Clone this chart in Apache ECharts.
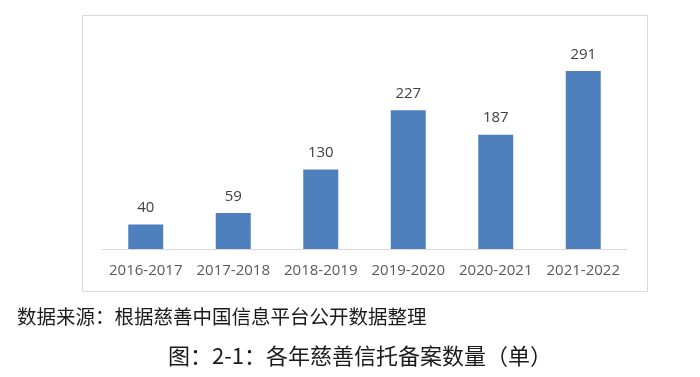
<!DOCTYPE html>
<html>
<head>
<meta charset="utf-8">
<script src="https://cdn.jsdelivr.net/npm/echarts@6/dist/echarts.min.js"></script>
<style>
  html, body { margin: 0; padding: 0; background: #fff; }
  #chart { width: 700px; height: 377px; }
</style>
</head>
<body>
<div id="chart"></div>
<script>
const years = ["2016-2017", "2017-2018", "2018-2019", "2019-2020", "2020-2021", "2021-2022"];
const trustCounts = [40, 59, 130, 227, 187, 291];

const chart = echarts.init(document.getElementById("chart"));

chart.setOption({
  backgroundColor: "#fff",
  animation: false,
  title: [
    {
      text: "数据来源：根据慈善中国信息平台公开数据整理",
      left: 17,
      top: 307,
      padding: 0,
      textStyle: {
        fontFamily: "Noto Sans CJK SC",
        fontSize: 19.5,
        fontWeight: "normal",
        color: "#1a1a1a"
      }
    },
    {
      text: "图：2-1：各年慈善信托备案数量（单）",
      left: 360,
      textAlign: "center",
      top: 345,
      padding: 0,
      textStyle: {
        fontFamily: "Noto Sans CJK SC",
        fontSize: 22,
        fontWeight: "normal",
        color: "#1a1a1a"
      }
    }
  ],
  graphic: [
    {
      type: "rect",
      shape: { x: 82.5, y: 15.5, width: 565, height: 276 },
      style: { fill: "none", stroke: "#d9d9d9", lineWidth: 1 },
      z: -1
    }
  ],
  grid: {
    left: 102,
    right: 73,
    top: 35,
    bottom: 128
  },
  xAxis: {
    type: "category",
    data: years,
    axisLine: { lineStyle: { color: "#d9d9d9", width: 1 } },
    axisTick: { show: false },
    axisLabel: {
      interval: 0,
      margin: 14,
      fontFamily: "Open Sans",
      fontSize: 15,
      color: "#595959"
    }
  },
  yAxis: {
    type: "value",
    min: 0,
    max: 350,
    show: false,
    splitLine: { show: false }
  },
  series: [
    {
      type: "bar",
      data: trustCounts,
      barWidth: "40%",
      itemStyle: { color: "#4e80bd" },
      label: {
        show: true,
        position: "top",
        distance: 9,
        fontFamily: "Open Sans",
        fontSize: 15,
        color: "#404040"
      }
    }
  ]
});
</script>
</body>
</html>
